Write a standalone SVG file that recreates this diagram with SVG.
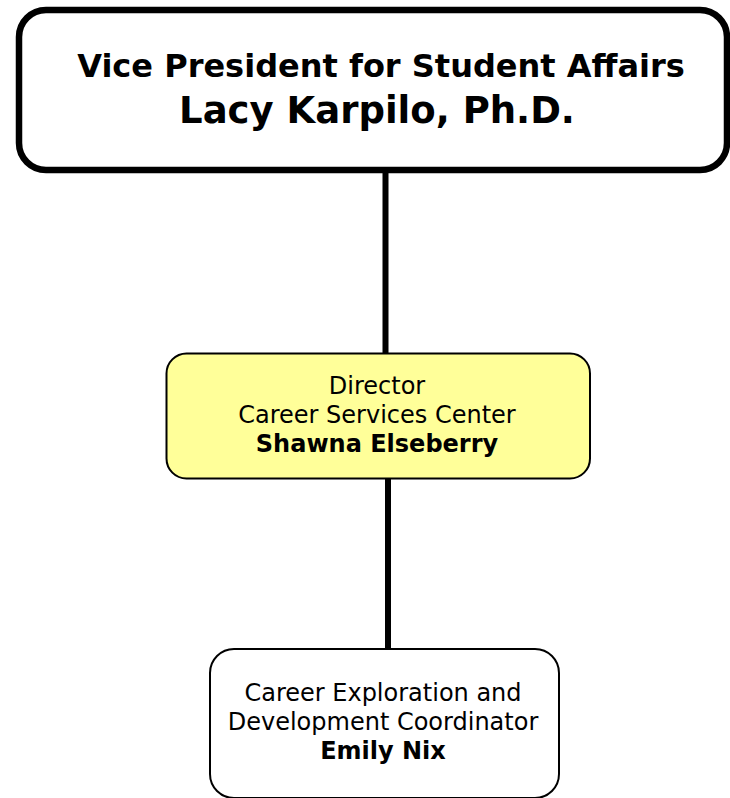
<svg xmlns="http://www.w3.org/2000/svg" width="730" height="798" viewBox="0 0 730 798">
<style>
text{font-family:"DejaVu Sans",Verdana,sans-serif;fill:#000;text-anchor:middle}
.b{font-weight:bold}
.box{stroke:#000;stroke-width:2}
.t{font-size:24px}
.conn{stroke:#000;stroke-width:6;fill:none}
</style>
<rect x="0" y="0" width="730" height="798" fill="#fff"/>
<g id="connectors">
<line class="conn" x1="385.5" y1="170" x2="385.5" y2="353"/>
<line class="conn" x1="388" y1="479" x2="388" y2="649"/>
</g>
<g id="vp">
<rect x="19" y="10" width="708" height="160" rx="27" ry="27" fill="#fff" stroke="#000" stroke-width="6.5"/>
<text class="b" x="381" y="77" font-size="32">Vice President for Student Affairs</text>
<text class="b" x="377" y="123" font-size="37">Lacy Karpilo, Ph.D.</text>
</g>
<g id="director">
<rect class="box" x="166.5" y="353.5" width="423.5" height="125" rx="20" ry="20" fill="#FFFF99"/>
<text class="t" x="377" y="394">Director</text>
<text class="t" x="377" y="423">Career Services Center</text>
<text class="t b" x="377" y="452">Shawna Elseberry</text>
</g>
<g id="coordinator">
<rect class="box" x="210" y="649" width="349" height="149" rx="24" ry="24" fill="#fff"/>
<text class="t" x="383" y="701">Career Exploration and</text>
<text class="t" x="383" y="730">Development Coordinator</text>
<text class="t b" x="383" y="759">Emily Nix</text>
</g>
</svg>
